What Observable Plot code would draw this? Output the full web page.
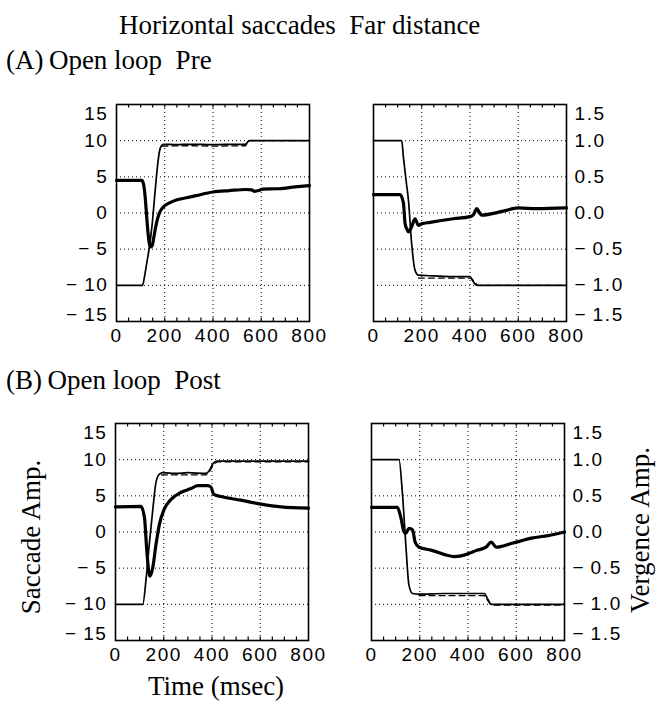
<!DOCTYPE html>
<html><head><meta charset="utf-8">
<script src="https://cdn.jsdelivr.net/npm/d3@7"></script>
<script src="https://cdn.jsdelivr.net/npm/@observablehq/plot@0.6"></script>
<style>
body{margin:0;background:#fff;}
#page{position:relative;width:657px;height:710px;overflow:hidden;font-family:"Liberation Serif","Times New Roman",serif;color:#000;}
.t{position:absolute;white-space:nowrap;font-size:27px;line-height:1;}
.rot{position:absolute;white-space:nowrap;font-size:27px;line-height:1;transform:translate(-50%,-50%) rotate(-90deg);}
.panel{position:absolute;}
</style></head>
<body><div id="page">
<div class="t" style="left:119px;top:12px;">Horizontal saccades&nbsp; Far distance</div>
<div class="t" style="left:6px;top:47px;">(A)&thinsp;Open loop&nbsp; Pre</div>
<div class="t" style="left:6px;top:367px;">(B)&thinsp;Open loop&nbsp; Post</div>
<div class="t" style="left:216px;top:673px;transform:translateX(-50%);">Time (msec)</div>
<div class="rot" style="left:31px;top:537px;">Saccade Amp.</div>
<div class="rot" style="left:640px;top:530px;">Vergence Amp.</div>
</div>
<script>
// ---- tick labels ----
const xTicks = [0, 200, 400, 600, 800];
const xTickLabels = ["0", "200", "400", "600", "800"];
const xGrid = [200, 400, 600];
const xMinor = [50, 100, 150, 200, 250, 300, 350, 400, 450, 500, 550, 600, 650, 700, 750];
const sacTicks = [15, 10, 5, 0, -5, -10, -15];
const sacTickLabels = ["15", "10", "5", "0", "\u2212\u20095", "\u2212\u200910", "\u2212\u200915"];
const sacGrid = [10, 5, 0, -5, -10];
const verTicks = [1.5, 1.0, 0.5, 0.0, -0.5, -1.0, -1.5];
const verTickLabels = ["1.5", "1.0", "0.5", "0.0", "\u2212\u20090.5", "\u2212\u20091.0", "\u2212\u20091.5"];
const verGrid = [1.0, 0.5, 0.0, -0.5, -1.0];

// ---- (A) Open loop Pre : saccade amplitude ----
const aSacThinT = [0, 108, 115, 125, 135, 148, 160, 170, 178, 186, 195, 250, 300, 400, 500, 535, 543, 550, 800];
const aSacThinV = [-10, -10, -9, -7, -5, -1.5, 3, 6.5, 8.5, 9.3, 9.5, 9.45, 9.5, 9.45, 9.5, 9.5, 9.8, 10, 10];
const aSacDashT = [188, 300, 400, 535, 548, 800];
const aSacDashV = [9.25, 9.3, 9.25, 9.3, 10, 10];
const aSacThickT = [0, 105, 112, 118, 124, 130, 136, 142, 148, 155, 162, 170, 179, 193, 220, 248, 290, 330, 399, 468, 537, 560, 571, 590, 605, 674, 740, 800];
const aSacThickV = [4.5, 4.5, 4.0, 2.5, 0, -2.5, -4.2, -4.7, -4.5, -3.3, -2.0, -0.8, 0.1, 0.8, 1.4, 1.8, 2.1, 2.4, 2.9, 3.1, 3.25, 3.2, 3.0, 3.1, 3.3, 3.35, 3.6, 3.8];

// ---- (A) Open loop Pre : vergence amplitude ----
const aVerThinT = [0, 117, 124, 135, 145, 158, 172, 186, 250, 330, 400, 410, 420, 430, 800];
const aVerThinV = [1.0, 1.0, 0.77, 0.45, 0.17, -0.42, -0.79, -0.86, -0.87, -0.88, -0.88, -0.93, -0.98, -1.0, -1.0];
const aVerDashT = [186, 300, 405, 418, 432, 800];
const aVerDashV = [-0.9, -0.9, -0.9, -0.95, -1.0, -1.0];
const aVerThickT = [0, 110, 124, 131, 138, 145, 158, 172, 186, 200, 234, 331, 400, 415, 428, 440, 448, 538, 600, 676, 800];
const aVerThickV = [0.255, 0.255, 0.14, -0.15, -0.22, -0.26, -0.19, -0.08, -0.17, -0.15, -0.13, -0.08, -0.05, -0.02, 0.06, 0.0, -0.03, 0.025, 0.07, 0.06, 0.07];

// ---- (B) Open loop Post : saccade amplitude ----
const bSacThinT = [0, 113, 127, 140, 154, 168, 182, 196, 250, 300, 375, 389, 403, 421, 800];
const bSacThinV = [-10, -10, -6.4, -1.7, 2.9, 6.9, 8.0, 8.2, 8.1, 8.2, 8.1, 8.5, 9.4, 9.8, 9.8];
const bSacDashT = [190, 300, 375, 389, 403, 421, 800];
const bSacDashV = [7.9, 7.9, 7.9, 8.3, 9.2, 9.7, 9.7];
const bSacThickT = [0, 105, 120, 130, 140, 144, 154, 168, 182, 202, 230, 272, 313, 341, 382, 396, 407, 437, 520, 603, 686, 800];
const bSacThickV = [3.47, 3.55, 2.0, -2.7, -5.9, -6.1, -5.0, -1.7, 1.06, 3.15, 4.5, 5.5, 6.0, 6.4, 6.4, 6.2, 5.2, 4.9, 4.4, 3.85, 3.47, 3.3];

// ---- (B) Open loop Post : vergence amplitude ----
const bVerThinT = [0, 114, 128, 142, 155, 170, 197, 300, 400, 468, 482, 496, 800];
const bVerThinV = [1.0, 1.0, 0.54, -0.16, -0.73, -0.85, -0.86, -0.85, -0.85, -0.85, -0.93, -1.0, -1.0];
const bVerDashT = [197, 300, 400, 468, 482, 496, 800];
const bVerDashV = [-0.88, -0.88, -0.88, -0.88, -0.95, -1.01, -1.01];
const bVerThickT = [0, 107, 121, 135, 142, 155, 170, 181, 197, 246, 343, 371, 440, 475, 496, 517, 579, 663, 732, 800];
const bVerThickV = [0.34, 0.34, 0.21, 0.0, -0.02, 0.05, 0.03, -0.14, -0.21, -0.25, -0.34, -0.33, -0.25, -0.21, -0.14, -0.21, -0.16, -0.085, -0.05, 0.0];

const zip = (T, V) => T.map((t, i) => ({t, v: V[i]}));

function panel({thin, dash, thick, yDomain, yTicks, yLabels, yGrid, side, frameLeft, frameTop}) {
  const W = 193, H = 217;
  const mL = side === "left" ? 70 : 10, mR = side === "left" ? 10 : 70, mT = 6, mB = 40;
  const [y0, y1] = yDomain;
  const tl = (y1 - y0) * 3.5 / H;
  const sgn = side === "left" ? -1 : 1;
  const anchor = side === "left" ? "end" : "start";
  const inner = yTicks.slice(1, -1), innerL = yLabels.slice(1, -1);
  const svg = Plot.plot({
    width: W + mL + mR, height: H + mT + mB,
    marginLeft: mL, marginRight: mR, marginTop: mT, marginBottom: mB,
    x: {domain: [0, 800], axis: null},
    y: {domain: yDomain, axis: null},
    style: {fontFamily: "'Liberation Sans', Arial, sans-serif", fontSize: "19px", letterSpacing: "1.6px", color: "#000", background: "transparent", overflow: "visible"},
    marks: [
      Plot.ruleY(yGrid, {stroke: "#000", strokeWidth: 1, strokeDasharray: "1,3"}),
      Plot.ruleX(xGrid, {stroke: "#000", strokeWidth: 1, strokeDasharray: "1,3"}),
      Plot.ruleX(xMinor, {y1: y1, y2: y1 - tl, stroke: "#000", strokeWidth: 1.2}),
      Plot.ruleX(xMinor, {y1: y0, y2: y0 + tl, stroke: "#000", strokeWidth: 1.2}),
      Plot.line(zip(dash[0], dash[1]), {x: "t", y: "v", stroke: "#000", strokeWidth: 1.3, strokeDasharray: "6,4"}),
      Plot.line(zip(thin[0], thin[1]), {x: "t", y: "v", stroke: "#000", strokeWidth: 1.7, curve: "monotone-x"}),
      Plot.line(zip(thick[0], thick[1]), {x: "t", y: "v", stroke: "#000", strokeWidth: 3.2, curve: "monotone-x"}),
      Plot.frame({stroke: "#000", strokeWidth: 1.6}),
      Plot.text(xTicks, {x: d => d, frameAnchor: "bottom", dy: 20, text: (d, i) => xTickLabels[i], fill: "#000"}),
      Plot.text(inner, {y: d => d, frameAnchor: side, dx: sgn * 8, textAnchor: anchor, text: (d, i) => innerL[i], fill: "#000"}),
      Plot.text([yTicks[0]], {y: d => d, frameAnchor: side, dx: sgn * 8, dy: 9, textAnchor: anchor, text: [yLabels[0]], fill: "#000"}),
      Plot.text([yTicks[yTicks.length - 1]], {y: d => d, frameAnchor: side, dx: sgn * 8, dy: -7, textAnchor: anchor, text: [yLabels[yLabels.length - 1]], fill: "#000"})
    ]
  });
  svg.classList.add("panel");
  svg.style.left = (frameLeft - mL) + "px";
  svg.style.top = (frameTop - mT) + "px";
  svg.style.position = "absolute";
  document.getElementById("page").appendChild(svg);
}

panel({thin: [aSacThinT, aSacThinV], dash: [aSacDashT, aSacDashV], thick: [aSacThickT, aSacThickV],
  yDomain: [-15, 15], yTicks: sacTicks, yLabels: sacTickLabels, yGrid: sacGrid, side: "left", frameLeft: 116, frameTop: 103.5});
panel({thin: [aVerThinT, aVerThinV], dash: [aVerDashT, aVerDashV], thick: [aVerThickT, aVerThickV],
  yDomain: [-1.5, 1.5], yTicks: verTicks, yLabels: verTickLabels, yGrid: verGrid, side: "right", frameLeft: 373, frameTop: 103.5});
panel({thin: [bSacThinT, bSacThinV], dash: [bSacDashT, bSacDashV], thick: [bSacThickT, bSacThickV],
  yDomain: [-15, 15], yTicks: sacTicks, yLabels: sacTickLabels, yGrid: sacGrid, side: "left", frameLeft: 115, frameTop: 423});
panel({thin: [bVerThinT, bVerThinV], dash: [bVerDashT, bVerDashV], thick: [bVerThickT, bVerThickV],
  yDomain: [-1.5, 1.5], yTicks: verTicks, yLabels: verTickLabels, yGrid: verGrid, side: "right", frameLeft: 371, frameTop: 423});
</script>
</body></html>
